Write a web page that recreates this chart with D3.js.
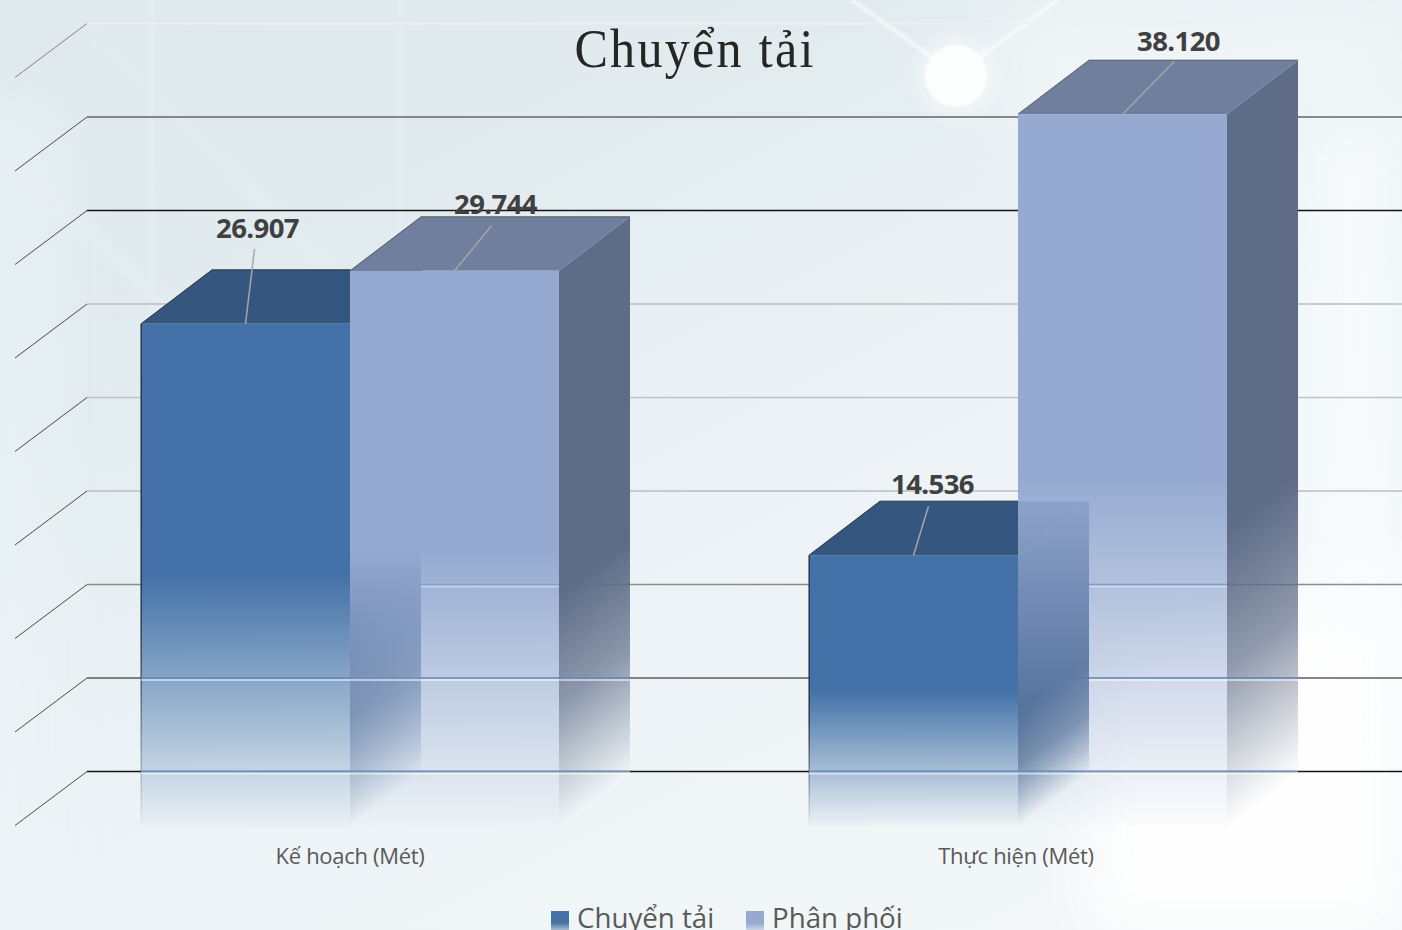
<!DOCTYPE html>
<html><head><meta charset="utf-8">
<style>html,body{margin:0;padding:0;background:#eef4f6;overflow:hidden}svg{display:block}</style>
<script src="https://cdn.jsdelivr.net/npm/d3@7"></script></head>
<body><svg id="c" width="1402" height="930"></svg>
<script>
const categories = ["Kế hoạch (Mét)", "Thực hiện (Mét)"];
const seriesNames = ["Chuyển tải", "Phân phối"];
const chuyenTai = [26907, 14536];
const phanPhoi = [29744, 38120];
const valueLabels = [["26.907", "14.536"], ["29.744", "38.120"]];
const gridTicks = [0, 5000, 10000, 15000, 20000, 25000, 30000, 35000, 40000];
const gridColors = ["#141414", "#5c5c5c", "#8c8c8c", "#bdbdbd", "#c2c2c2", "#bdbdbd", "#141414", "#666666", "#eef1f2"];
const frontColors = ["#4472a8", "#95a9d1"];
const topColors = ["#34567f", "#6f7f9d"];
const sideColors = ["#34567f", "#5e6c87"];
const labelShift = [[[12, -86], [19, -61]], [[41, -57], [56, -63]]];
const leaderShift = [[[9, -75], [15, -49]], [[37, -45], [52, -53]]];

const W = 1402, H = 930, depthX = 71, depthY = 54, gridLift = 56;
const svg = d3.select("#c"), defs = svg.append("defs");
const x0 = d3.scaleBand().domain(categories).range([16, 1352]);
const x1 = d3.scaleBand().domain(seriesNames).range([125, 543]);
const y = d3.scaleLinear().domain([0, 40000]).range([827, 79]);
const values = [chuyenTai, phanPhoi];

// Background
const bg = defs.append("linearGradient").attr("id","bg").attr("x1",0).attr("y1",0).attr("x2",0.75).attr("y2",1);
[[0,"#dfe9ee"],[0.3,"#e2ecef"],[0.6,"#ecf3f6"],[1,"#f3f7f8"]].forEach(s=>bg.append("stop").attr("offset",s[0]).attr("stop-color",s[1]));
defs.append("filter").attr("id","b30").attr("x","-50%").attr("y","-50%").attr("width","200%").attr("height","200%").append("feGaussianBlur").attr("stdDeviation",30);
defs.append("filter").attr("id","b6").attr("x","-50%").attr("y","-50%").attr("width","200%").attr("height","200%").append("feGaussianBlur").attr("stdDeviation",6);
defs.append("filter").attr("id","b2").attr("x","-50%").attr("y","-50%").attr("width","200%").attr("height","200%").append("feGaussianBlur").attr("stdDeviation",1.6);
svg.append("rect").attr("width",W).attr("height",H).attr("fill","url(#bg)");
const deco = svg.append("g");
deco.append("rect").attr("x",-40).attr("y",100).attr("width",100).attr("height",H).attr("fill","#edf5f9").attr("opacity",.45).attr("filter","url(#b30)");
deco.append("path").attr("d","M1100 660 L1402 560 L1402 930 L1090 930 Z").attr("fill","#ffffff").attr("opacity",.95).attr("filter","url(#b30)");
deco.append("path").attr("d","M1300 120 L1402 100 L1402 640 L1300 640 Z").attr("fill","#f9fcfd").attr("opacity",.8).attr("filter","url(#b30)");
deco.append("path").attr("d","M1000 0 L1402 0 L1402 110 L1000 140 Z").attr("fill","#f2f6f7").attr("opacity",.8).attr("filter","url(#b30)");
[[148,6],[398,5]].forEach(s=>deco.append("rect").attr("x",s[0]).attr("y",0).attr("width",s[1]).attr("height",560).attr("fill","#e6eef3").attr("opacity",.5).attr("filter","url(#b2)"));
deco.append("path").attr("d","M0 150 L300 430 M60 0 L360 300").attr("stroke","#eaf1f4").attr("stroke-width",10).attr("opacity",.3).attr("filter","url(#b6)");
deco.append("path").attr("d","M852 0 L950 70 M1058 0 L960 72").attr("stroke","#fff").attr("stroke-width",3).attr("opacity",.75).attr("filter","url(#b2)");
deco.append("circle").attr("cx",956).attr("cy",76).attr("r",44).attr("fill","#fff").attr("opacity",.3).attr("filter","url(#b6)");
deco.append("circle").attr("cx",956).attr("cy",76).attr("r",31).attr("fill","#fff").attr("opacity",.92).attr("filter","url(#b2)");

// Grid, wall + left floor lines
const grid = svg.append("g");
const gy = d => y(d) - gridLift;
grid.selectAll("line.h").data(gridTicks).join("line").attr("class","h")
  .attr("x1",x0.range()[0]+depthX).attr("x2",W)
  .attr("y1",d=>gy(d)+.5).attr("y2",d=>gy(d)+.5)
  .attr("stroke",(d,i)=>gridColors[i]).attr("stroke-width",1.3);
grid.selectAll("line.s").data(gridTicks).join("line").attr("class","s")
  .attr("x1",x0.range()[0]-1).attr("x2",x0.range()[0]+depthX)
  .attr("y1",d=>gy(d)+depthY+.5).attr("y2",d=>gy(d)+.5)
  .attr("stroke",(d,i)=>i==8?"#777":"#383838").attr("stroke-width",.9);

// Bars
function fade(id,color,solid){
  const g=defs.append("linearGradient").attr("id",id).attr("x1",0).attr("y1",0).attr("x2",0).attr("y2",1);
  g.append("stop").attr("offset",0).attr("stop-color",color);
  g.append("stop").attr("offset",solid).attr("stop-color",color);
  g.append("stop").attr("offset",1).attr("stop-color",color).attr("stop-opacity",0.02);
  return g;
}
frontColors.forEach((c,i)=>fade("front"+i,c,.5));
fade("edge","#1f242b",.6);
const bars = svg.append("g");
const points = [];
categories.forEach((cat,ci)=>{
  seriesNames.forEach((s,si)=>{
    const v=values[si][ci], xl=x0(cat)+x1(s), xr=xl+x1.bandwidth(), yt=y(v), yb=y(0);
    points.push({ci,si,xl,xr,yt,yb});
    const k=-depthY/depthX, id=`side${si}${ci}`;
    const g=defs.append("linearGradient").attr("id",id).attr("gradientUnits","userSpaceOnUse")
      .attr("x1",0).attr("x2",0).attr("y1",yt).attr("y2",yb)
      .attr("gradientTransform",`matrix(1,${k},0,1,0,${-k*xr})`);
    g.append("stop").attr("offset",0).attr("stop-color",sideColors[si]);
    g.append("stop").attr("offset",.58).attr("stop-color",sideColors[si]);
    g.append("stop").attr("offset",.78).attr("stop-color",sideColors[si]).attr("stop-opacity",.68);
    g.append("stop").attr("offset",1).attr("stop-color",sideColors[si]).attr("stop-opacity",0);
    const b=bars.append("g");
    b.append("path").attr("d",`M${xr} ${yt}L${xr+depthX} ${yt-depthY}L${xr+depthX} ${yb-depthY}L${xr} ${yb}Z`).attr("fill",`url(#${id})`);
    b.append("path").attr("d",`M${xl} ${yt}L${xl+depthX} ${yt-depthY}L${xr+depthX} ${yt-depthY}L${xr} ${yt}Z`).attr("fill",topColors[si]);
    b.append("path").attr("d",`M${xl} ${yt}L${xl+depthX} ${yt-depthY}L${xr+(si?depthX:0)} ${yt-depthY}`).attr("fill","none").attr("stroke","#2d3238").attr("stroke-width",si?.7:1);
    b.append("rect").attr("x",xl).attr("y",yt).attr("width",x1.bandwidth()).attr("height",yb-yt).attr("fill",`url(#front${si})`);
    if(si==0) b.append("rect").attr("x",xl-.5).attr("y",yt).attr("width",1.2).attr("height",yb-yt).attr("fill","url(#edge)");
  });
});

// Grid lines seen through the fading bars
const sheen = svg.append("g");
function sheenLine(t,a,b,op){
  sheen.append("line").attr("x1",a).attr("x2",b).attr("y1",gy(t)+.5).attr("y2",gy(t)+.5).attr("stroke","#6f9ad2").attr("stroke-width",1.4).attr("opacity",op);
  sheen.append("line").attr("x1",a).attr("x2",b).attr("y1",gy(t)+2.5).attr("y2",gy(t)+2.5).attr("stroke","#fff").attr("stroke-width",1.8).attr("opacity",op*.6);
}
categories.forEach((cat,ci)=>{
  const p=points.filter(d=>d.ci==ci), left=p[0].xl, mid=p[0].xr+depthX, right=p[1].xr+depthX, inner=p[1].xr;
  sheenLine(0,left,right,.95);
  sheenLine(5000,ci?mid:left,right,.85);
  sheenLine(10000,mid,inner,.6);
});

// Leaders + value labels
const labels = svg.append("g");
points.forEach(p=>{
  const cx=(p.xl+p.xr)/2, ls=leaderShift[p.si][p.ci], ts=labelShift[p.si][p.ci];
  labels.append("line").attr("x1",cx).attr("y1",p.yt).attr("x2",cx+ls[0]).attr("y2",p.yt+ls[1]).attr("stroke","#a6a6a6").attr("stroke-width",1.5);
  labels.append("text").attr("x",cx+ts[0]).attr("y",p.yt+ts[1]).attr("text-anchor","middle")
    .attr("font-family","'Open Sans'").attr("font-weight",700).attr("font-size",27.5).attr("letter-spacing",-.6).attr("fill","#404040").text(valueLabels[p.si][p.ci]);
});

// Category labels
const axis = svg.append("g");
axis.selectAll("text").data(categories).join("text")
  .attr("x",(d,i)=>x0(d)+x0.bandwidth()/2-(i?2:0)).attr("y",864).attr("text-anchor","middle")
  .attr("font-family","'Open Sans'").attr("font-size",22).attr("letter-spacing",-.3).attr("fill","#595959").text(d=>d);

// Title
svg.append("text").attr("transform","translate(695,67) scale(.93,1)").attr("text-anchor","middle")
  .attr("font-family","'Liberation Serif'").attr("font-size",54).attr("letter-spacing",2.4).attr("fill","#262626").text("Chuyển tải");

// Legend
const lx=[551,746];
seriesNames.forEach((s,i)=>{
  svg.append("rect").attr("x",lx[i]).attr("y",911).attr("width",18).attr("height",24).attr("fill",`url(#front${i})`);
  svg.append("text").attr("x",lx[i]+26).attr("y",928).attr("font-family","'Open Sans'").attr("font-size",27.7).attr("fill","#595959").text(s);
});
</script></body></html>
